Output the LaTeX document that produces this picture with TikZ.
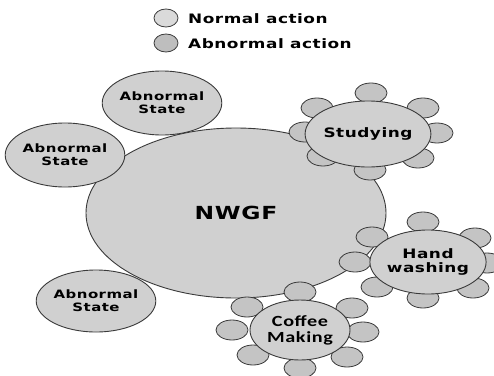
\documentclass[tikz,border=0pt]{standalone}
\usepackage{fontspec}
\usetikzlibrary{shapes.geometric}
\newfontfamily\labfont{DejaVu Sans}[FakeStretch=1.3,LetterSpace=4]
\newfontfamily\cmfont{Carlito}[FakeStretch=1.3,LetterSpace=4]
\definecolor{edge}{HTML}{3A3A3A}
\definecolor{bigfill}{HTML}{D0D0D0}
\definecolor{satfill}{HTML}{C4C4C4}
\definecolor{normfill}{HTML}{DADADA}
\definecolor{abnfill}{HTML}{BEBEBE}
\begin{document}
\begin{tikzpicture}[x=1pt,y=-1pt,
  blob/.style={ellipse,draw=edge,fill=bigfill,line width=0.9pt,inner sep=0pt,align=center},
  sat/.style={ellipse,draw=edge,fill=satfill,line width=0.8pt,inner sep=0pt,minimum width=32pt,minimum height=20pt},
  legtext/.style={anchor=west,inner sep=0pt,font=\labfont\bfseries\fontsize{13}{15}\selectfont},
  absize/.style={font=\labfont\bfseries\fontsize{11.5}{13}\selectfont},
  clsize/.style={font=\labfont\bfseries\fontsize{13}{14}\selectfont}]
\useasboundingbox (0,0) rectangle (494,375);
% legend
\node[ellipse,draw=edge,fill=normfill,line width=0.8pt,minimum width=24pt,minimum height=18pt,inner sep=0pt] (l1) at (166,18) {};
\node[ellipse,draw=edge,fill=abnfill,line width=0.8pt,minimum width=24pt,minimum height=18pt,inner sep=0pt] (l2) at (166,43) {};
\node[legtext] (t1) at (188,19) {Normal action};
\node[legtext] (t2) at (188,44) {Abnormal action};
% main
\node[blob,minimum width=300pt,minimum height=170pt,font=\labfont\bfseries\fontsize{18}{18}\selectfont] (nwgf) at (236,213) {NWGF};
\node[blob,minimum width=100pt,minimum height=64pt,absize] (ab1) at (162,103) {Abnormal\\State};
\node[blob,minimum width=104pt,minimum height=64pt,absize] (ab2) at (65,155) {Abnormal\\State};
\node[blob,minimum width=102pt,minimum height=62pt,absize] (ab3) at (96,301) {Abnormal\\State};
% Studying cluster
\node[sat] (s1) at (371,93) {};
\node[sat] (s2) at (423,108) {};
\node[sat] (s3) at (437,133) {};
\node[sat] (s4) at (418,158) {};
\node[sat] (s5) at (370,170) {};
\node[sat] (s6) at (323,156) {};
\node[sat] (s7) at (305,132) {};
\node[sat] (s8) at (317,108) {};
\node[blob,minimum width=102pt,minimum height=66pt,clsize] (stud) at (368,134) {Studying};
% Hand washing cluster
\node[sat] (h1) at (423,222) {};
\node[sat] (h2) at (475,238) {};
\node[sat] (h3) at (487,263) {};
\node[sat] (h4) at (473,288) {};
\node[sat] (h5) at (423,298) {};
\node[sat] (h6) at (377,287) {};
\node[sat] (h7) at (355,262) {};
\node[sat] (h8) at (372,237) {};
\node[blob,minimum width=96pt,minimum height=64pt,clsize] (hand) at (428,262) {Hand\\washing};
% Coffee making cluster
\node[sat] (c1) at (300,292) {};
\node[sat] (c2) at (352,308) {};
\node[sat] (c3) at (363,332) {};
\node[sat] (c4) at (347,357) {};
\node[sat] (c5) at (300,368) {};
\node[sat] (c6) at (253,355) {};
\node[sat] (c7) at (232,330) {};
\node[sat] (c8) at (247,307) {};
\node[blob,minimum width=100pt,minimum height=60pt,font=\cmfont\bfseries\fontsize{15.5}{16}\selectfont] (coffee) at (300,330) {Coffee\\Making};
\end{tikzpicture}
\end{document}
